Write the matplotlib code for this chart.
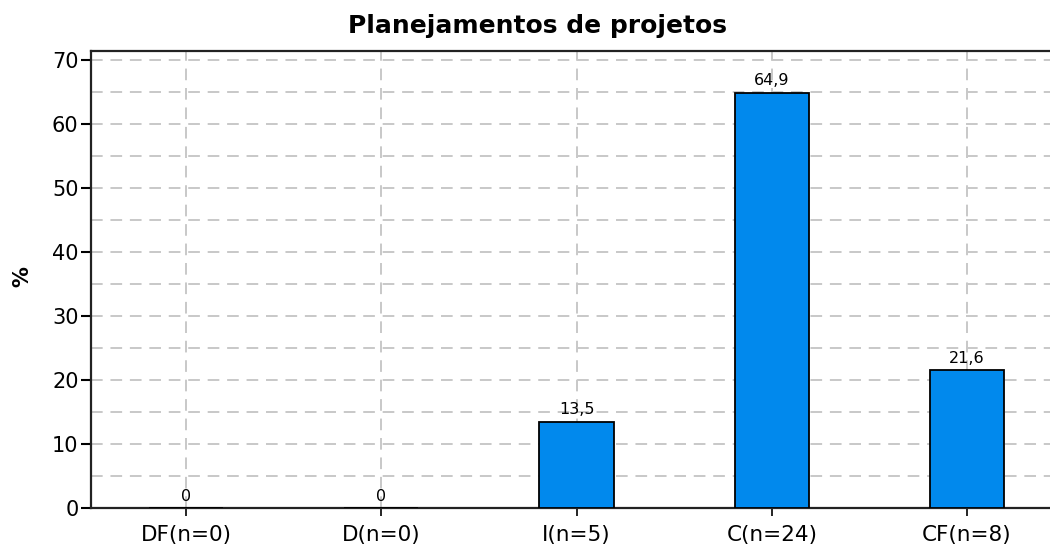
import matplotlib
matplotlib.use("Agg")
import matplotlib.pyplot as plt
from matplotlib.ticker import MultipleLocator

categories = ["DF(n=0)", "D(n=0)", "I(n=5)", "C(n=24)", "CF(n=8)"]
percent = [0.0, 0.0, 13.5, 64.9, 21.6]
value_labels = ["0", "0", "13,5", "64,9", "21,6"]
title = "Planejamentos de projetos"
ylabel = "%"

W, H = 1050, 545
fig = plt.figure(figsize=(W / 100, H / 100), dpi=100)
ax = fig.add_axes([91 / W, 37 / H, 1 - 91 / W, (508 - 51) / H])

grid_kw = dict(color="#c8c8c8", linewidth=1.4, linestyle=(0, (6, 4)))
ax.set_axisbelow(True)
ax.yaxis.set_major_locator(MultipleLocator(10))
ax.yaxis.set_minor_locator(MultipleLocator(5))
ax.grid(axis="y", which="both", **grid_kw)
ax.grid(axis="x", which="major", **grid_kw)

x = list(range(len(categories)))
ax.bar(x, percent, width=0.38, color="#0189ED", edgecolor="black",
       linewidth=1.3, zorder=3)

for xi, v, lab in zip(x, percent, value_labels):
    ax.annotate(lab, (xi, v), xytext=(0, 3), textcoords="offset points",
                ha="center", va="bottom", fontsize=11.5, zorder=4)

ax.set_xticks(x)
ax.set_xticklabels(categories, fontsize=15.5)
ax.set_xlim(-0.487, 4.425)
ax.set_ylim(0, 71.4)
ax.set_yticks(range(0, 71, 10))
ax.tick_params(axis="y", which="major", labelsize=15, length=7, width=1.5,
               direction="out", pad=2)
ax.tick_params(axis="y", which="minor", length=0)
ax.tick_params(axis="x", length=6, width=1.2, direction="out", pad=6)

for side in ("left", "bottom", "top"):
    ax.spines[side].set_linewidth(1.6)
    ax.spines[side].set_color("#222222")
ax.spines["right"].set_visible(False)

fig.text(537 / W, 1 - 26 / H, title, ha="center", va="center",
         fontsize=18, fontweight="heavy")
fig.text(22 / W, 1 - 277 / H, ylabel, ha="center", va="center",
         fontsize=15, fontweight="bold", rotation=90)

fig.savefig("out.png", dpi=100)
